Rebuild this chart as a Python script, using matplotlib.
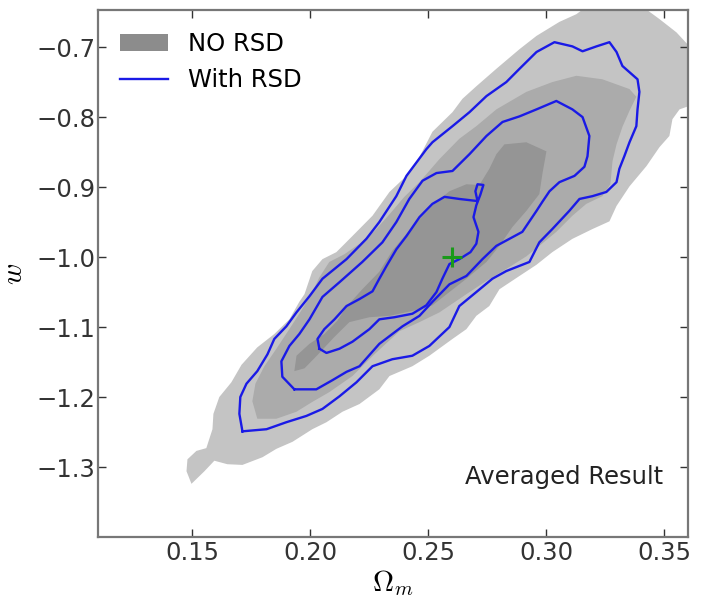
import numpy as np
import matplotlib.pyplot as plt

plt.rcParams['mathtext.fontset'] = 'cm'

# contour outlines (Omega_m, w)
light_x = [0.1496, 0.1475, 0.1479, 0.1517, 0.1559, 0.1585, 0.1589, 0.1614, 0.1665, 0.1708,
           0.1775, 0.1847, 0.1911, 0.1953, 0.1975, 0.2008, 0.2051, 0.2110, 0.2178, 0.2263,
           0.2335, 0.2407, 0.2462, 0.2517, 0.2602, 0.2644, 0.2703, 0.2788, 0.2886, 0.2958,
           0.3055, 0.3127, 0.3182, 0.3394, 0.3479, 0.3551, 0.3606, 0.3606, 0.3564, 0.3534,
           0.3521, 0.3479, 0.3424, 0.3352, 0.3297, 0.3267, 0.3195, 0.3110, 0.3025, 0.2958,
           0.2886, 0.2801, 0.2758, 0.2703, 0.2661, 0.2602, 0.2504, 0.2432, 0.2335, 0.2292,
           0.2208, 0.2136, 0.2068, 0.2008, 0.1924, 0.1856, 0.1797, 0.1712, 0.1648, 0.1593,
           0.1551]
light_y = [-1.324, -1.306, -1.289, -1.277, -1.273, -1.246, -1.224, -1.200, -1.179, -1.154,
           -1.129, -1.110, -1.089, -1.064, -1.053, -1.020, -1.003, -0.993, -0.970, -0.941,
           -0.907, -0.884, -0.857, -0.821, -0.793, -0.774, -0.756, -0.731, -0.703, -0.684,
           -0.664, -0.653, -0.639, -0.639, -0.660, -0.679, -0.699, -0.784, -0.789, -0.803,
           -0.827, -0.843, -0.870, -0.899, -0.927, -0.949, -0.960, -0.974, -0.993, -1.011,
           -1.027, -1.046, -1.070, -1.084, -1.103, -1.117, -1.141, -1.156, -1.170, -1.189,
           -1.210, -1.221, -1.236, -1.246, -1.264, -1.274, -1.286, -1.297, -1.296, -1.291,
           -1.306]

mid_x = [0.1775, 0.1754, 0.1767, 0.1805, 0.1856, 0.1903, 0.1953, 0.2004, 0.2038, 0.2080,
         0.2144, 0.2208, 0.2271, 0.2335, 0.2398, 0.2462, 0.2547, 0.2631, 0.2703, 0.2788,
         0.2915, 0.3025, 0.3127, 0.3237, 0.3352, 0.3381, 0.3352, 0.3322, 0.3297, 0.3280,
         0.3271, 0.3237, 0.3169, 0.3110, 0.3042, 0.2970, 0.2915, 0.2830, 0.2746, 0.2661,
         0.2547, 0.2462, 0.2377, 0.2271, 0.2178, 0.2080, 0.2008, 0.1941, 0.1856]
mid_y = [-1.231, -1.206, -1.181, -1.156, -1.131, -1.107, -1.081, -1.053, -1.029, -1.007,
         -0.996, -0.981, -0.963, -0.939, -0.914, -0.893, -0.860, -0.831, -0.813, -0.789,
         -0.764, -0.750, -0.741, -0.746, -0.760, -0.771, -0.791, -0.814, -0.839, -0.863,
         -0.896, -0.913, -0.924, -0.941, -0.964, -0.984, -0.999, -1.017, -1.034, -1.053,
         -1.079, -1.093, -1.106, -1.139, -1.170, -1.193, -1.207, -1.221, -1.231]

dark_x = [0.1932, 0.1941, 0.1996, 0.2059, 0.2114, 0.2153, 0.2220, 0.2292, 0.2347, 0.2407,
          0.2462, 0.2525, 0.2589, 0.2661, 0.2716, 0.2758, 0.2788, 0.2822, 0.2915, 0.3000,
          0.2983, 0.2970, 0.2915, 0.2856, 0.2801, 0.2746, 0.2661, 0.2589, 0.2517, 0.2432,
          0.2335, 0.2250, 0.2165, 0.2102, 0.2030, 0.1975]
dark_y = [-1.163, -1.141, -1.124, -1.110, -1.091, -1.071, -1.046, -1.021, -0.991, -0.967,
          -0.946, -0.924, -0.906, -0.896, -0.897, -0.874, -0.853, -0.839, -0.836, -0.849,
          -0.881, -0.910, -0.934, -0.957, -0.984, -1.007, -1.031, -1.050, -1.069, -1.077,
          -1.084, -1.086, -1.093, -1.114, -1.140, -1.159]

rsd1_x = [0.1712, 0.1699, 0.1703, 0.1729, 0.1775, 0.1818, 0.1847, 0.1898, 0.1941, 0.1996,
          0.2051, 0.2153, 0.2237, 0.2292, 0.2364, 0.2407, 0.2491, 0.2517, 0.2602, 0.2674,
          0.2746, 0.2830, 0.2886, 0.2958, 0.3034, 0.3110, 0.3153, 0.3212, 0.3267, 0.3297,
          0.3322, 0.3386, 0.3394, 0.3386, 0.3381, 0.3352, 0.3330, 0.3309, 0.3297, 0.3254,
          0.3195, 0.3140, 0.3097, 0.3025, 0.2970, 0.2928, 0.2830, 0.2771, 0.2703, 0.2631,
          0.2589, 0.2504, 0.2432, 0.2347, 0.2263, 0.2195, 0.2123, 0.2051, 0.1983, 0.1898,
          0.1814, 0.1712]
rsd1_y = [-1.249, -1.224, -1.200, -1.181, -1.163, -1.139, -1.117, -1.099, -1.079, -1.056,
          -1.031, -1.003, -0.974, -0.950, -0.913, -0.884, -0.846, -0.836, -0.813, -0.793,
          -0.770, -0.750, -0.731, -0.707, -0.693, -0.699, -0.706, -0.699, -0.693, -0.707,
          -0.727, -0.746, -0.764, -0.789, -0.813, -0.836, -0.856, -0.874, -0.893, -0.907,
          -0.913, -0.917, -0.934, -0.960, -0.979, -1.007, -1.020, -1.031, -1.050, -1.070,
          -1.100, -1.127, -1.141, -1.146, -1.156, -1.179, -1.199, -1.217, -1.227, -1.236,
          -1.246, -1.249]

rsd2_x = [0.1932, 0.1881, 0.1877, 0.1911, 0.1953, 0.1996, 0.2051, 0.2123, 0.2220, 0.2305,
          0.2364, 0.2419, 0.2475, 0.2534, 0.2602, 0.2674, 0.2746, 0.2814, 0.2886, 0.2958,
          0.3042, 0.3110, 0.3153, 0.3182, 0.3174, 0.3161, 0.3119, 0.3055, 0.3013, 0.2983,
          0.2958, 0.2898, 0.2843, 0.2788, 0.2729, 0.2661, 0.2589, 0.2517, 0.2462, 0.2390,
          0.2292, 0.2208, 0.2153, 0.2093, 0.2025, 0.1932]
rsd2_y = [-1.189, -1.171, -1.149, -1.127, -1.110, -1.089, -1.057, -1.036, -1.007, -0.979,
          -0.950, -0.917, -0.891, -0.880, -0.877, -0.853, -0.827, -0.807, -0.799, -0.789,
          -0.777, -0.789, -0.800, -0.827, -0.856, -0.871, -0.884, -0.893, -0.906, -0.921,
          -0.934, -0.964, -0.974, -0.984, -1.003, -1.027, -1.039, -1.064, -1.084, -1.099,
          -1.124, -1.156, -1.164, -1.176, -1.189, -1.189]

rsd3_x = [0.2038, 0.2030, 0.2059, 0.2102, 0.2153, 0.2208, 0.2263, 0.2292, 0.2322, 0.2364,
          0.2407, 0.2462, 0.2517, 0.2568, 0.2631, 0.2708, 0.2699, 0.2708, 0.2733, 0.2720,
          0.2703, 0.2691, 0.2712, 0.2703, 0.2678, 0.2631, 0.2589, 0.2559, 0.2534, 0.2491,
          0.2432, 0.2356, 0.2292, 0.2250, 0.2178, 0.2123, 0.2068, 0.2038]
rsd3_y = [-1.131, -1.117, -1.103, -1.089, -1.070, -1.060, -1.049, -1.031, -1.013, -0.989,
          -0.970, -0.943, -0.924, -0.914, -0.917, -0.920, -0.906, -0.896, -0.897, -0.911,
          -0.926, -0.943, -0.964, -0.981, -0.993, -1.003, -1.010, -1.031, -1.050, -1.069,
          -1.081, -1.086, -1.089, -1.103, -1.121, -1.131, -1.137, -1.131]

fiducial = (0.26, -1.0)

fig = plt.figure(figsize=(7.02, 5.98), dpi=100)
ax = fig.add_axes([0.1396, 0.102, 0.8405, 0.8813])

ax.fill(light_x, light_y, color='#c4c4c4', lw=0, zorder=1)
ax.fill(mid_x, mid_y, color='#ababab', lw=0, zorder=2)
ax.fill(dark_x, dark_y, color='#959595', lw=0, zorder=3)

for cx, cy in [(rsd1_x, rsd1_y), (rsd2_x, rsd2_y), (rsd3_x, rsd3_y)]:
    ax.plot(cx, cy, color='#1a1ae6', lw=1.7, zorder=4)

ax.plot(*fiducial, '+', color='#1a9a1a', ms=14, mew=2.2, zorder=5)

# legend proxies
ax.fill([], [], color='#8c8c8c', lw=0, label='NO RSD')
ax.plot([], [], color='#1a1ae6', lw=1.7, label='With RSD')
ax.legend(loc='upper left', frameon=False, fontsize=17.5, handlelength=2.0)

ax.text(0.957, 0.114, 'Averaged Result', transform=ax.transAxes,
        ha='right', va='center', fontsize=17.5, color='#222222')

ax.set_xlim(0.11, 0.36)
ax.set_ylim(-1.4, -0.647)
ax.set_xticks([0.15, 0.20, 0.25, 0.30, 0.35])
ax.set_yticks([-1.3, -1.2, -1.1, -1.0, -0.9, -0.8, -0.7])
ax.tick_params(direction='in', length=6, width=1, top=True, right=True,
               labelsize=17.5, colors='#333333', pad=3)
ax.tick_params(axis='y', pad=2)
for s in ax.spines.values():
    s.set_color('#777777')
    s.set_linewidth(1.6)

ax.set_xlabel(r'$\Omega_m$', fontsize=21, labelpad=2)
ax.set_ylabel(r'$w$', fontsize=21, labelpad=6)

fig.savefig('out.png', dpi=100)
